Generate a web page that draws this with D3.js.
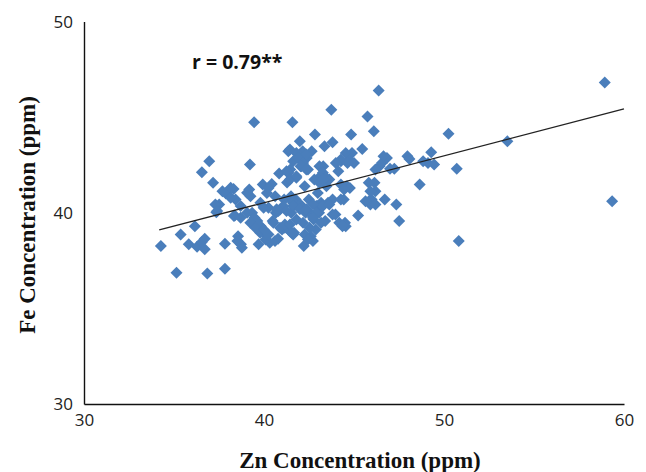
<!DOCTYPE html>
<html>
<head>
<meta charset="utf-8">
<script src="https://cdn.jsdelivr.net/npm/d3@7"></script>
<style>
  body { margin: 0; background: #fff; }
  .tick-lbl { font-family: "Open Sans", sans-serif; font-size: 17px; fill: #222; }
  .axis-title { font-family: "Liberation Serif", "Times New Roman", serif; font-weight: bold; font-size: 23px; fill: #111; }
  .r-lbl { font-family: "Open Sans", sans-serif; font-weight: bold; font-size: 19.5px; fill: #111; }
</style>
</head>
<body>
<div id="chart"></div>
<script>
// Zn (x) and Fe (y) concentrations, ppm
var zn = [
  34.27, 35.14, 35.37, 35.82, 36.16, 36.28, 36.55, 36.71, 36.71, 36.55,
  36.96, 36.85, 37.17, 37.35, 37.51, 37.69, 37.88, 37.83, 37.83, 38.31,
  38.42, 38.38, 38.56, 38.72, 38.77, 39.22, 39.18, 39.25, 39.45, 39.34,
  39.47, 39.63, 39.70, 39.82, 39.93, 39.98, 40.09, 40.16, 40.25, 40.32,
  40.43, 40.48, 40.62, 40.66, 40.78, 40.84, 40.89, 41.00, 41.12, 41.16,
  41.28, 41.35, 41.46, 41.51, 41.58, 41.67, 41.76, 41.80, 41.92, 41.99,
  42.03, 42.10, 42.15, 42.21, 42.26, 42.31, 42.37, 42.44, 42.49, 42.53,
  42.60, 42.65, 42.72, 42.76, 42.83, 42.88, 42.95, 42.99, 43.06, 43.13,
  43.17, 43.29, 43.36, 43.40, 43.47, 43.56, 43.63, 43.74, 43.81, 43.81,
  43.97, 44.13, 44.27, 44.43, 44.50, 44.54, 44.61, 44.73, 44.77, 44.84,
  44.89, 45.00, 45.23, 45.46, 45.75, 45.91, 45.98, 46.10, 46.14, 46.19,
  46.37, 46.42, 46.55, 46.71, 46.83, 47.24, 47.35, 47.51, 47.97, 48.08,
  48.65, 49.11, 49.29, 49.45, 50.25, 50.71, 50.82, 53.52, 58.93, 59.34,
  38.15, 38.15, 39.06, 41.25, 40.25, 37.30, 37.40, 38.70, 39.80, 39.98,
  40.70, 41.07, 41.50, 41.60, 41.44, 41.80, 42.35, 41.62, 41.90, 42.17,
  44.54, 44.27, 43.99, 44.64, 43.08, 43.27, 43.45, 41.35, 41.44, 41.80,
  42.08, 42.35, 42.80, 43.08, 43.27, 44.27, 44.45, 45.82, 45.91, 45.82,
  44.27, 41.62, 41.99, 42.90, 43.27, 43.63, 38.52, 38.33, 38.70, 39.06,
  39.24, 39.52, 39.79, 39.98, 40.25, 40.61, 40.52, 40.89, 41.16, 41.44,
  41.62, 40.80, 41.25, 41.62, 41.99, 42.35, 42.72, 42.90, 45.64, 46.19,
  43.81, 44.18, 44.36, 43.17, 41.44, 41.53, 42.26, 42.44, 41.80, 42.17,
  42.53, 42.72, 48.84, 46.64, 46.19, 47.00
];
var fe = [
  38.26, 36.87, 38.87, 38.35, 39.30, 38.23, 38.47, 38.64, 38.09, 42.12,
  42.70, 36.83, 41.57, 40.03, 40.43, 41.13, 41.01, 38.38, 37.08, 41.25,
  40.70, 39.86, 38.78, 38.35, 38.17, 42.52, 41.22, 40.87, 44.73, 40.00,
  39.74, 39.57, 38.35, 39.30, 41.48, 38.96, 38.61, 41.04, 40.26, 38.43,
  41.51, 39.57, 40.87, 40.00, 38.64, 42.05, 40.17, 39.13, 40.70, 39.22,
  41.59, 43.22, 42.26, 40.00, 44.73, 38.96, 40.70, 41.83, 42.96, 43.74,
  42.43, 40.35, 43.22, 38.26, 41.39, 40.00, 42.87, 42.26, 40.70, 40.00,
  38.78, 43.22, 38.52, 39.65, 44.09, 39.13, 40.35, 41.04, 40.00, 41.91,
  40.52, 42.43, 43.48, 39.57, 41.39, 40.52, 41.74, 45.39, 43.69, 40.70,
  39.91, 42.17, 42.70, 40.70, 39.48, 39.30, 41.39, 42.78, 41.30, 44.09,
  43.13, 42.61, 39.86, 43.34, 45.04, 40.43, 40.70, 44.26, 41.57, 41.13,
  46.40, 42.43, 42.61, 40.70, 42.87, 42.30, 40.43, 39.57, 42.96, 42.82,
  41.48, 42.61, 43.17, 42.52, 44.14, 42.30, 38.52, 43.74, 46.82, 40.61,
  41.31, 40.79, 41.05, 42.17, 41.30, 40.44, 40.09, 40.35, 40.53, 40.27,
  40.18, 40.35, 40.87, 40.53, 43.31, 43.13, 43.05, 42.70, 42.87, 42.61,
  43.13, 42.79, 42.61, 42.61, 42.44, 42.09, 41.83, 42.09, 41.74, 41.91,
  42.44, 42.26, 41.74, 41.57, 41.74, 41.48, 41.22, 41.57, 41.13, 40.61,
  40.70, 40.61, 40.44, 40.35, 40.35, 40.44, 38.52, 39.83, 39.74, 40.00,
  39.48, 39.22, 38.96, 39.13, 38.87, 38.52, 39.48, 39.22, 39.39, 39.04,
  38.87, 40.09, 40.09, 40.35, 40.18, 40.18, 40.44, 40.00, 40.61, 40.44,
  39.91, 39.48, 39.30, 39.48, 39.39, 38.96, 38.87, 38.61, 39.65, 39.48,
  39.22, 39.74, 42.70, 42.96, 42.26, 42.30
];

var xTicks = [30, 40, 50, 60];
var yTicks = [30, 40, 50];

// linear trendline as drawn in the picture
var trendSlope = 0.2452;
var trendIntercept = 30.72;
var trendRange = [34.18, 60];

var rLabel = "r = 0.79**";

var width = 646, height = 472;

var x = d3.scaleLinear().domain([30, 60]).range([84, 624]);
var y = d3.scaleLinear().domain([30, 50]).range([404, 21.6]);

var svg = d3.select("#chart").append("svg")
    .attr("width", width)
    .attr("height", height);

// axes: plain lines, no tick marks
var xAxis = d3.axisBottom(x).tickValues(xTicks).tickSize(0).tickPadding(6);
var yAxis = d3.axisLeft(y).tickValues(yTicks).tickSize(0).tickPadding(11);

var gx = svg.append("g")
    .attr("transform", "translate(0," + y(30) + ")")
    .call(xAxis);
var gy = svg.append("g")
    .attr("transform", "translate(" + x(30) + ",0)")
    .call(yAxis);

[gx, gy].forEach(function(g) {
    g.select(".domain").attr("stroke", "#111").attr("stroke-width", 1.4);
    g.selectAll(".tick text")
        .attr("class", "tick-lbl")
        .attr("font-family", null)
        .attr("font-size", null)
        .attr("fill", null);
});
gx.selectAll(".tick text").attr("dy", "0.95em");
gy.selectAll(".tick text").attr("dy", "0.35em");

// points
var pts = zn.map(function(d, i) { return { x: d, y: fe[i] }; });

svg.append("g").selectAll("path")
    .data(pts).enter().append("path")
    .attr("d", "M0,-6L6,0L0,6L-6,0Z")
    .attr("fill", "#4a7ebb")
    .attr("transform", function(d) {
        return "translate(" + x(d.x) + "," + y(d.y) + ")";
    });

// trendline
svg.append("line")
    .attr("x1", x(trendRange[0]))
    .attr("y1", y(trendSlope * trendRange[0] + trendIntercept))
    .attr("x2", x(trendRange[1]))
    .attr("y2", y(trendSlope * trendRange[1] + trendIntercept))
    .attr("stroke", "#222")
    .attr("stroke-width", 1.3);

svg.append("text")
    .attr("class", "r-lbl")
    .attr("x", 192)
    .attr("y", 69)
    .text(rLabel);

// axis titles
svg.append("text")
    .attr("class", "axis-title")
    .attr("x", 360)
    .attr("y", 468)
    .attr("text-anchor", "middle")
    .text("Zn Concentration (ppm)");

svg.append("text")
    .attr("class", "axis-title")
    .attr("transform", "translate(35,215) rotate(-90)")
    .attr("text-anchor", "middle")
    .text("Fe Concentration (ppm)");
</script>
</body>
</html>
